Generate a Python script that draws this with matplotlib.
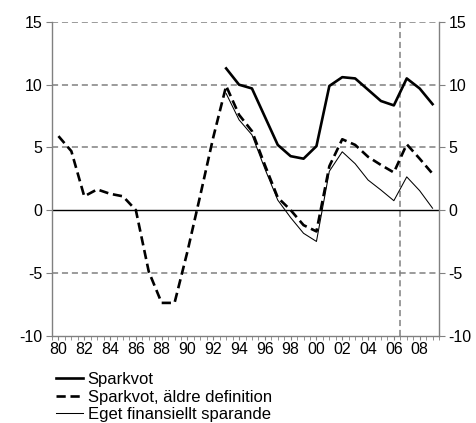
import matplotlib
matplotlib.use("Agg")
import matplotlib.pyplot as plt
import numpy as np

plt.rcParams['font.family'] = ['Liberation Sans', 'DejaVu Sans']
plt.rcParams['font.size'] = 11.5

years = list(range(1980, 2010))
years_new = list(range(1993, 2010))

# Sparkvot (1993-2009)
sparkvot = [11.3, 10.0, 9.7, 7.45, 5.2, 4.3, 4.1, 5.1, 9.9, 10.6, 10.5, 9.6,
            8.7, 8.35, 10.5, 9.7, 8.45]
# Sparkvot, äldre definition (1980-2009)
aldre = [5.9, 4.7, 1.1, 1.65, 1.3, 1.1, 0.0, -4.9, -7.4, -7.4, -3.3, 1.2, 5.8,
         9.9, 7.6, 6.3, 3.6, 1.0, 0.0, -1.2, -1.7, 3.5, 5.65, 5.2, 4.25, 3.6,
         3.0, 5.25, 4.1, 2.9]
# Eget finansiellt sparande (1993-2009)
eget = [9.3, 7.2, 6.0, 3.3, 0.8, -0.6, -1.85, -2.5, 3.1, 4.65, 3.7, 2.4, 1.6,
        0.75, 2.65, 1.55, 0.15]

labels = ['Sparkvot', 'Sparkvot, äldre definition', 'Eget finansiellt sparande']
xtick_years = list(range(1980, 2010, 2))
prognos_start = 2006.5

fig = plt.figure(figsize=(4.76, 4.23), dpi=100)
ax = fig.add_axes([52/476, 1-335.5/423, (439-52)/476, (335.5-22)/423])

grey = '#808080'
for v in [15, 10, 5, -5]:
    ax.axhline(v, color=grey, lw=1.1, dashes=(4, 2.5), zorder=1)
ax.axvline(prognos_start, color=grey, lw=1.1, dashes=(4, 2.5), zorder=1)
ax.axhline(0, color='black', lw=1.0, zorder=2)

ax.plot(years_new, sparkvot, color='black', lw=1.9, label=labels[0], zorder=4)
l2, = ax.plot(years, aldre, color='black', lw=1.9, label=labels[1], zorder=3)
l2.set_dashes((3.5, 1.8))
ax.plot(years_new, eget, color='black', lw=0.75, label=labels[2], zorder=3)

ax.set_xlim(1979.5, 2009.5)
ax.set_ylim(-10, 15)
ax.set_yticks([-10, -5, 0, 5, 10, 15])
ax.set_yticklabels(['-10', '-5', '0', '5', '10', '15'])
ax.set_xticks(xtick_years)
ax.set_xticklabels(['%02d' % (y % 100) for y in xtick_years])
ax.set_xticks(np.arange(1979.5, 2009.6, 0.5), minor=True)

for s in ['left', 'right', 'bottom']:
    ax.spines[s].set_color(grey)
    ax.spines[s].set_linewidth(1.0)
ax.spines['top'].set_visible(False)

ax.tick_params(axis='y', which='both', left=True, right=True, labelleft=True,
               labelright=True, direction='out', length=4, color=grey, pad=3)
ax.tick_params(axis='x', which='both', direction='out', length=3, color=grey, pad=2)

fig.legend(loc='upper left', bbox_to_anchor=(56/476, 1-372/423), frameon=False,
           fontsize=12, handlelength=1.6, handletextpad=0.3, labelspacing=0.15,
           borderaxespad=0, borderpad=0)

fig.savefig('out.png', dpi=100)
